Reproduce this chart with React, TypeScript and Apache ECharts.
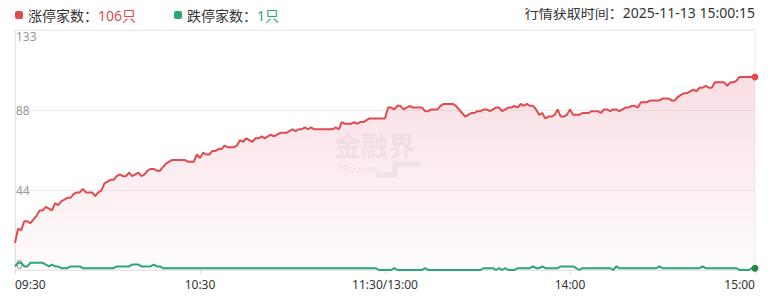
import React, { useEffect, useRef } from "react";
import * as echarts from "echarts";

// ---- data ----
const upCount = 106;
const downCount = 1;
const fetchTime = "2025-11-13 15:00:15";
const yMax = 133;

// Tick label positions (minute index)
const xTickIndex = [0, 60, 120, 180, 240];

// 涨停家数 per minute (241 points, 09:30 -> 15:00)
const upSeries = [
  15, 23, 22, 27, 27, 26, 28, 30, 33, 33,
  35, 34, 33, 37, 36, 38, 39, 40, 40, 42,
  43, 43, 45, 43, 43, 43, 41, 43, 44, 48,
  49, 50, 50, 52, 53, 52, 52, 54, 52, 53,
  54, 52, 53, 55, 56, 56, 55, 55, 57, 59,
  60, 61, 61, 61, 61, 61, 60, 60, 60, 64,
  62, 65, 64, 64, 66, 66, 67, 67, 69, 68,
  68, 68, 69, 72, 71, 73, 72, 71, 73, 73,
  74, 73, 74, 75, 74, 75, 76, 76, 76, 77,
  78, 77, 78, 78, 79, 78, 79, 78, 78, 78,
  78, 78, 78, 78, 79, 78, 82, 81, 81, 81,
  82, 81, 82, 82, 83, 84, 84, 84, 84, 84,
  84, 90, 90, 89, 91, 91, 89, 90, 91, 90,
  90, 90, 90, 88, 88, 89, 89, 89, 91, 92,
  92, 92, 92, 91, 89, 87, 85, 86, 87, 87,
  88, 88, 89, 89, 88, 89, 90, 90, 88, 89,
  90, 90, 91, 90, 92, 91, 92, 91, 91, 89,
  86, 87, 84, 85, 85, 86, 89, 85, 85, 86,
  89, 86, 86, 86, 87, 87, 87, 88, 88, 88,
  87, 89, 89, 88, 89, 89, 88, 89, 90, 90,
  91, 91, 90, 93, 93, 93, 94, 94, 94, 94,
  95, 95, 95, 94, 94, 96, 97, 98, 98, 99,
  100, 99, 101, 101, 102, 101, 101, 104, 104, 104,
  104, 102, 104, 104, 105, 107, 107, 107, 107, 107,
  107,
];

// 跌停家数 per minute
const downSeries = [
  2, 4, 4, 2, 2, 4, 4, 4, 4, 4,
  3, 2, 3, 2, 2, 1, 1, 1, 2, 2,
  2, 2, 1, 1, 1, 1, 1, 1, 1, 1,
  1, 1, 1, 2, 2, 2, 2, 2, 3, 3,
  3, 2, 2, 2, 2, 3, 2, 2, 1, 1,
  1, 1, 1, 1, 1, 1, 1, 1, 1, 1,
  1, 1, 1, 1, 1, 1, 1, 1, 1, 1,
  1, 1, 1, 1, 1, 1, 1, 1, 1, 1,
  1, 1, 1, 1, 1, 1, 1, 1, 1, 1,
  1, 1, 1, 1, 1, 1, 1, 1, 1, 1,
  1, 1, 1, 1, 1, 1, 1, 1, 1, 1,
  1, 1, 1, 1, 1, 1, 1, 1, 0, 0,
  0, 0, 0, 1, 0, 0, 0, 0, 0, 0,
  0, 0, 0, 1, 0, 0, 0, 0, 0, 0,
  0, 0, 0, 0, 0, 0, 0, 0, 0, 0,
  0, 0, 1, 1, 1, 1, 0, 1, 0, 1,
  0, 0, 0, 1, 1, 1, 1, 1, 2, 1,
  1, 2, 1, 1, 1, 1, 1, 2, 2, 2,
  2, 2, 1, 0, 1, 1, 1, 1, 1, 1,
  1, 1, 1, 1, 0, 2, 1, 1, 1, 1,
  1, 1, 1, 1, 1, 1, 1, 1, 1, 2,
  1, 1, 1, 1, 1, 1, 1, 1, 1, 1,
  1, 1, 1, 2, 1, 1, 1, 1, 1, 1,
  1, 1, 1, 1, 1, 0, 0, 0, 0, 1,
  1,
];

function pad(n: number) {
  return n < 10 ? "0" + n : String(n);
}

function buildTimes(): string[] {
  const out: string[] = [];
  for (let m = 9 * 60 + 30; m <= 11 * 60 + 30; m++) {
    out.push(pad(Math.floor(m / 60)) + ":" + pad(m % 60));
  }
  out[out.length - 1] = "11:30/13:00";
  for (let m = 13 * 60 + 1; m <= 15 * 60; m++) {
    out.push(pad(Math.floor(m / 60)) + ":" + pad(m % 60));
  }
  return out;
}

const categories = buildTimes();

const FONT = "Noto Sans, Noto Sans CJK SC, sans-serif";
const RED = "#e04b4f";
const GREEN = "#2aa777";
const WM = "rgba(150,150,200,0.13)";

function withEndDot(arr: number[], color: string) {
  return arr.map((v, i) =>
    i === arr.length - 1
      ? { value: v, symbol: "circle", symbolSize: 7, itemStyle: { color } }
      : v
  );
}

export default function App() {
  const ref = useRef<HTMLDivElement>(null);

  useEffect(() => {
    if (!ref.current) return;
    const chart = echarts.init(ref.current, undefined, { renderer: "svg" });
    const showTick = (index: number) => xTickIndex.indexOf(index) >= 0;
    const option: any = {
      animation: false,
      textStyle: { fontFamily: FONT },
      grid: {
        left: 15,
        right: 16,
        top: 30,
        bottom: 36,
        show: true,
        borderColor: "#ececec",
        borderWidth: 1,
      },
      legend: {
        left: 10,
        top: 3,
        icon: "roundRect",
        itemWidth: 8,
        itemHeight: 8,
        itemGap: 38,
        data: ["涨停", "跌停"],
        selectedMode: false,
        formatter: (name: string) =>
          name === "涨停"
            ? `{n|涨停家数：}{r|${upCount}只}`
            : `{n|跌停家数：}{g|${downCount}只}`,
        textStyle: {
          fontFamily: FONT,
          rich: {
            n: { fontSize: 14, color: "#333", fontFamily: FONT },
            r: { fontSize: 14, color: RED, fontFamily: FONT },
            g: { fontSize: 14, color: GREEN, fontFamily: FONT },
          },
        },
      },
      graphic: [
        {
          type: "text",
          right: 16,
          top: 5,
          style: {
            text: "行情获取时间：" + fetchTime,
            fontSize: 14,
            fill: "#333",
            fontFamily: FONT,
          },
        },
        {
          type: "group",
          z: 10,
          silent: true,
          children: [
            {
              type: "text",
              x: 334,
              y: 131,
              style: {
                text: "金融界",
                fontSize: 27,
                lineHeight: 29,
                fontWeight: "bold",
                fill: WM,
                fontFamily: FONT,
              },
            },
            {
              type: "text",
              x: 337,
              y: 164,
              style: {
                text: "JRJ.com",
                fontSize: 10,
                lineHeight: 11,
                fontWeight: "bold",
                fill: WM,
                fontFamily: "Liberation Sans, Arial, sans-serif",
              },
            },
            {
              type: "polyline",
              shape: {
                points: [
                  [376, 175],
                  [395, 175],
                  [395, 164],
                  [420, 164],
                ],
              },
              style: { stroke: WM, lineWidth: 5, fill: "none" },
            },
          ],
        },
      ],
      xAxis: {
        type: "category",
        data: categories,
        boundaryGap: false,
        axisLine: { show: true, lineStyle: { color: "#e6e6e6" } },
        axisTick: {
          show: true,
          interval: (index: number) => showTick(index),
          length: 4,
          lineStyle: { color: "#dadada" },
        },
        axisLabel: {
          interval: (index: number) => showTick(index),
          color: "#333",
          fontSize: 12,
          margin: 8,
          fontFamily: FONT,
          alignMinLabel: "left",
          alignMaxLabel: "right",
        },
        splitLine: { show: false },
      },
      yAxis: {
        type: "value",
        min: 0,
        max: yMax,
        interval: yMax / 3,
        axisLine: { show: true, lineStyle: { color: "#e6e6e6" } },
        axisTick: { show: false },
        splitLine: { show: true, lineStyle: { color: "#ececec" } },
        axisLabel: {
          inside: true,
          margin: 1,
          color: "#999",
          fontSize: 12,
          fontFamily: FONT,
          verticalAlignMinLabel: "bottom",
          verticalAlignMaxLabel: "top",
          formatter: (v: number) => String(Math.floor(v + 0.01)),
        },
      },
      series: [
        {
          name: "涨停",
          type: "line",
          data: withEndDot(upSeries, RED),
          symbol: "none",
          showAllSymbol: true,
          itemStyle: { color: RED },
          lineStyle: { color: RED, width: 2 },
          areaStyle: {
            color: new echarts.graphic.LinearGradient(0, 0, 0, 1, [
              { offset: 0, color: "rgba(228,110,135,0.32)" },
              { offset: 1, color: "rgba(228,110,135,0.03)" },
            ]),
          },
          z: 2,
        },
        {
          name: "跌停",
          type: "line",
          data: withEndDot(downSeries, "#23883f"),
          symbol: "none",
          showAllSymbol: true,
          itemStyle: { color: GREEN },
          lineStyle: { color: GREEN, width: 2 },
          z: 3,
        },
      ],
    };
    chart.setOption(option);
    return () => chart.dispose();
  }, []);

  return <div ref={ref} style={{ width: 771, height: 306, margin: -8 }} />;
}
